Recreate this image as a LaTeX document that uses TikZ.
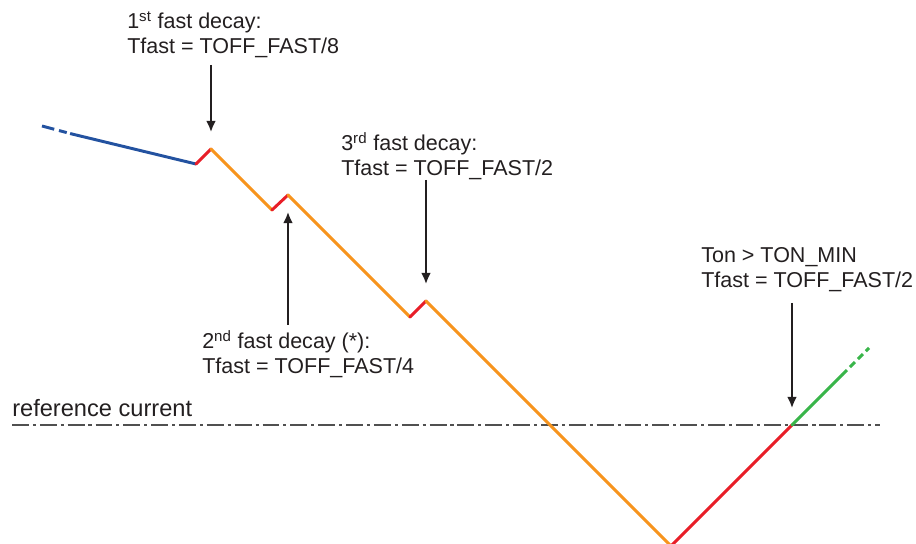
\documentclass[tikz,border=0pt]{standalone}
\usepackage{xcolor}
\usepackage{fontspec}
\setmainfont{Liberation Sans}
\usepackage{tikz}
\usetikzlibrary{arrows,calc,arrows.meta,positioning}

\definecolor{slowblue}{RGB}{35,82,160}
\definecolor{fastred}{RGB}{232,30,40}
\definecolor{decayorange}{RGB}{247,148,29}
\definecolor{ongreen}{RGB}{57,181,74}
\definecolor{refgray}{RGB}{80,80,80}
\definecolor{inkblack}{RGB}{35,31,32}

\begin{document}
\begin{tikzpicture}[>={Latex[length=8pt,width=7pt]}, x=0.025cm, y=-0.025cm,
        wave/.style={line width=2.1pt, line cap=round, line join=round},
        marker/.style={->, inkblack, line width=1.9pt, shorten >=0.42cm},
        lbl/.style={anchor=north west, inner sep=0pt, align=left, text=inkblack,
            font=\fontsize{15.3}{17.8}\selectfont}]
        \useasboundingbox (0,0) rectangle (916,544);

        % corner points of the current
        \coordinate (S0) at (42,126);
        \coordinate (S1) at (72,134);
        \coordinate (P0) at (196,164);
        \coordinate (P1) at (211,149);
        \coordinate (V1) at (272,210);
        \coordinate (P2) at (288,195);
        \coordinate (V2) at (410,317);
        \coordinate (P3) at (426,301);
        \coordinate (V3) at (671,546);
        \coordinate (X) at (792,425);
        \coordinate (G1) at (842,375);
        \coordinate (G2) at (869,348);

        % reference level
        \coordinate (R0) at (12,425);
        \coordinate (R1) at (880,425);
        \draw[refgray, line width=1.3pt, dash pattern=on 12pt off 2.8pt on 2.2pt off 2.8pt] (R0) -- (R1);
        \node[lbl, font=\fontsize{16.8}{19}\selectfont] (Ref) at (12,399) {reference current};

        % current waveform
        \draw[wave, slowblue, line cap=butt, dash pattern=on 9pt off 3.5pt on 5.7pt off 2.5pt] (S0) -- (S1);
        \draw[wave, slowblue] (S1) -- (P0);
        \draw[wave, fastred] (P0) -- (P1);
        \draw[wave, decayorange] (P1) -- (V1);
        \draw[wave, fastred] (V1) -- (P2);
        \draw[wave, decayorange] (P2) -- (V2);
        \draw[wave, fastred] (V2) -- (P3);
        \draw[wave, decayorange] (P3) -- (V3);
        \draw[wave, fastred] (V3) -- (X);
        \draw[wave, ongreen] (X) -- (G1);
        \draw[wave, ongreen, line cap=butt, dash pattern=on 5pt off 3pt] (G1) -- (G2);

        % labels
        \node[lbl] (L1) at (127,11) {1\textsuperscript{st} fast decay:\\Tfast = TOFF\_FAST/8};
        \node[lbl] (L2) at (202,330) {2\textsuperscript{nd} fast decay (*):\\Tfast = TOFF\_FAST/4};
        \node[lbl] (L3) at (341,132) {3\textsuperscript{rd} fast decay:\\Tfast = TOFF\_FAST/2};
        \node[lbl] (L4) at (701,247) {Ton > TON\_MIN\\Tfast = TOFF\_FAST/2};

        % arrows
        \coordinate (A1) at (211,65);
        \coordinate (A2) at (288,325);
        \coordinate (A3) at (426,180);
        \coordinate (A4) at (792,303);
        \draw[marker] (A1) -- (P1);
        \draw[marker] (A2) -- (P2);
        \draw[marker] (A3) -- (P3);
        \draw[marker] (A4) -- (X);
    \end{tikzpicture}
\end{document}
